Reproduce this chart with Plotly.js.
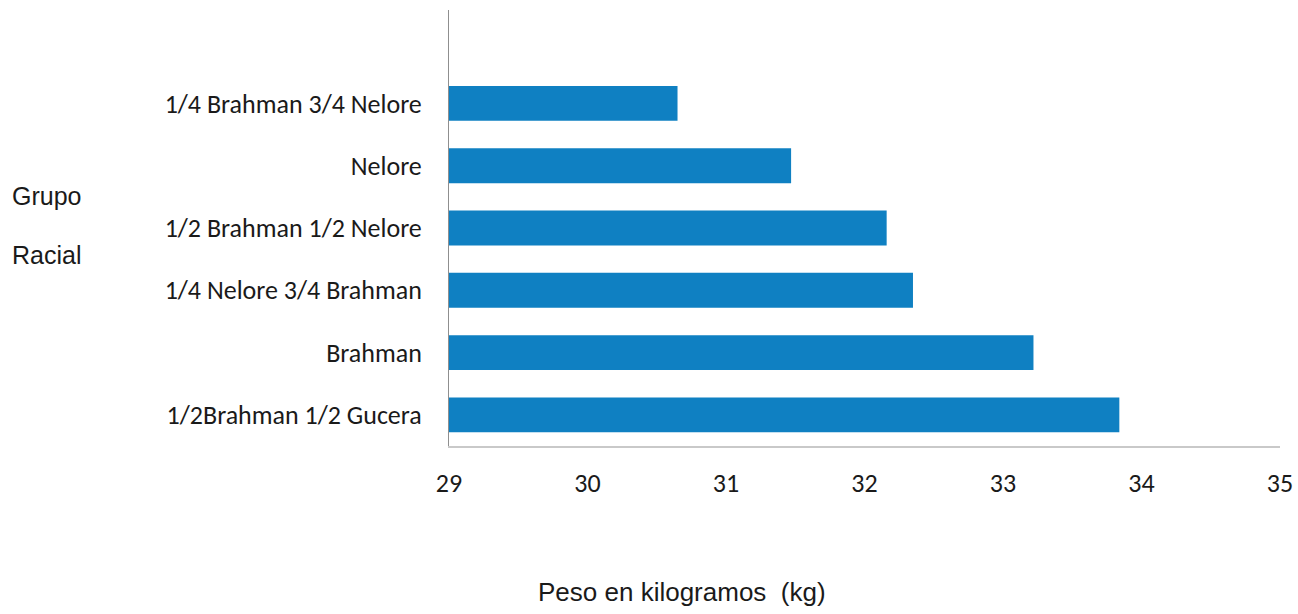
<!DOCTYPE html>
<html>
<head>
<meta charset="utf-8">
<script src="https://cdn.plot.ly/plotly-3.0.1.min.js"></script>
<style>html,body{margin:0;padding:0;background:#fff;}#chart{width:1298px;height:614px;}</style>
</head>
<body>
<div id="chart"></div>
<script>
// Categories listed bottom-to-top (as Plotly draws them)
const categories = [
  "1/2Brahman 1/2 Gucera",
  "Brahman",
  "1/4 Nelore 3/4 Brahman",
  "1/2 Brahman 1/2 Nelore",
  "Nelore",
  "1/4 Brahman 3/4 Nelore"
];
const pesoKg = [33.84, 33.22, 32.35, 32.16, 31.47, 30.65];
const xTicks = [29, 30, 31, 32, 33, 34, 35];
const xTitle = "Peso en kilogramos\u00a0\u00a0(kg)";
const yTitleLines = ["Grupo", "Racial"];

const labelFont = {family: "Carlito, Lato, sans-serif", size: 26, color: "#1a1a1a"};
const titleFont = {family: "Liberation Sans, Arial, sans-serif", size: 25, color: "#1a1a1a"};
const xTitleFont = {family: "Liberation Sans, Arial, sans-serif", size: 26, color: "#1a1a1a"};

const axisMin = 29;

const trace = {
  type: "bar",
  orientation: "h",
  y: categories,
  x: pesoKg.map(v => v - axisMin),
  base: axisMin,
  marker: {color: "#0f80c2"},
  hoverinfo: "x+y"
};

const layout = {
  width: 1298,
  height: 614,
  margin: {l: 449, r: 18, t: 10, b: 168},
  paper_bgcolor: "#ffffff",
  plot_bgcolor: "#ffffff",
  bargap: 0.44,
  showlegend: false,
  xaxis: {
    range: [29, 35],
    tickvals: xTicks,
    ticktext: xTicks.map(String),
    showgrid: false,
    zeroline: false,
    showline: true,
    linecolor: "#c9c9c9",
    linewidth: 2,
    ticks: "",
    tickfont: labelFont,
    ticklabelstandoff: 13
  },
  yaxis: {
    type: "category",
    range: [-0.5, 6.5],
    showgrid: false,
    zeroline: false,
    showline: true,
    linecolor: "#8f8f8f",
    linewidth: 1,
    ticks: "",
    tickfont: labelFont,
    ticklabelstandoff: 21
  },
  annotations: [
    {text: xTitle, xref: "paper", yref: "paper", x: (682 - 449) / 830, y: (446 - 592) / 436,
     xanchor: "center", yanchor: "middle", showarrow: false, font: xTitleFont},
    {text: yTitleLines[0], xref: "paper", yref: "paper", x: (11 - 449) / 830, y: (446 - 196) / 436,
     xanchor: "left", yanchor: "middle", showarrow: false, font: titleFont},
    {text: yTitleLines[1], xref: "paper", yref: "paper", x: (11 - 449) / 830, y: (446 - 255) / 436,
     xanchor: "left", yanchor: "middle", showarrow: false, font: titleFont}
  ]
};

Plotly.newPlot("chart", [trace], layout, {displayModeBar: false, staticPlot: true});
</script>
</body>
</html>
